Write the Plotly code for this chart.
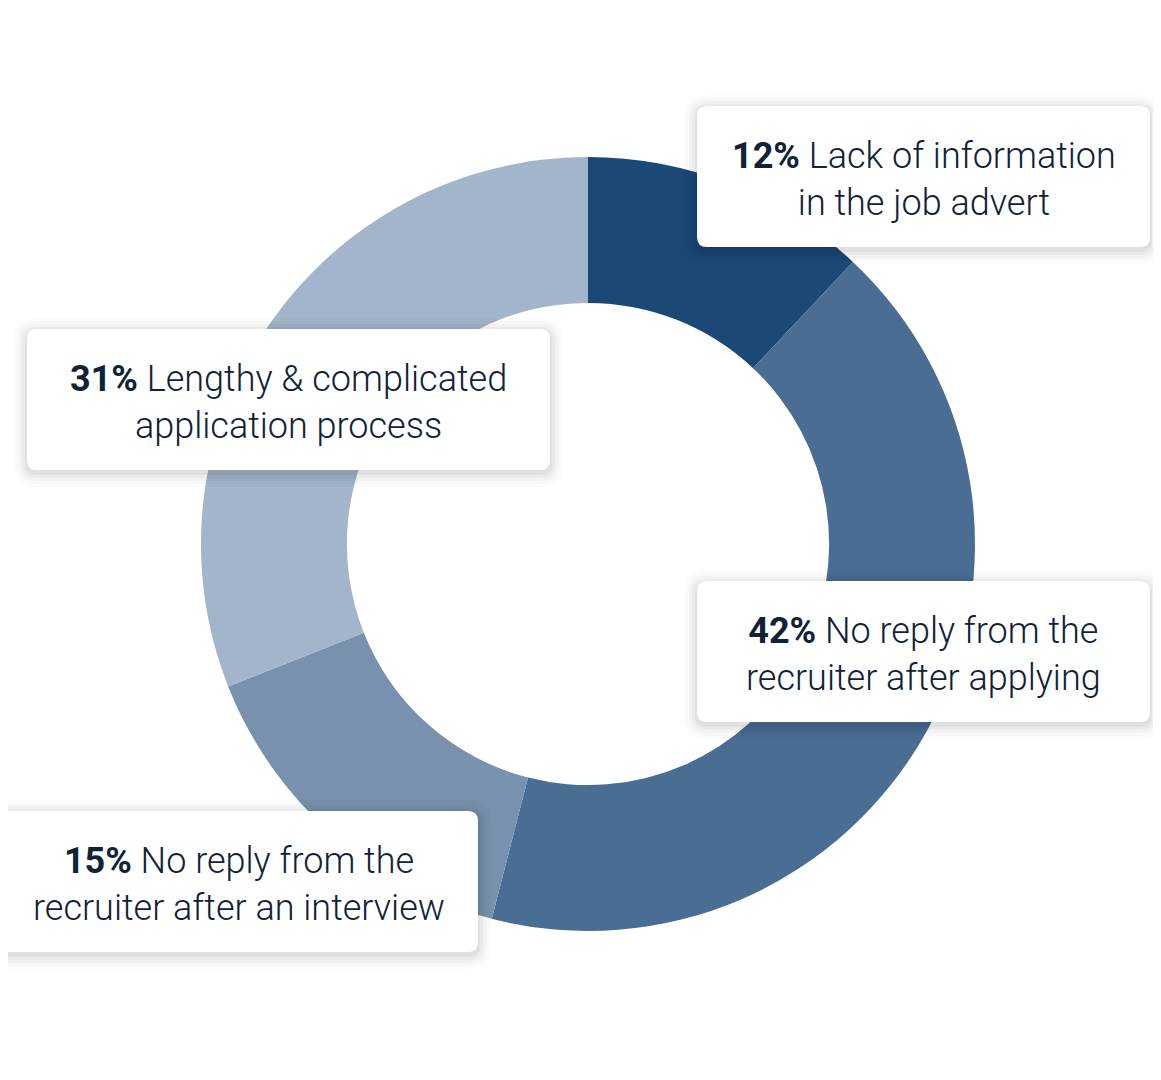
import plotly.graph_objects as go

labels = ["Lack of information in the job advert",
          "No reply from the recruiter after applying",
          "No reply from the recruiter after an interview",
          "Lengthy & complicated application process"]
values = [12, 42, 15, 31]
colors = ["#1c4876", "#4a6d93", "#7791ae", "#a3b5ca"]
box_text = [
    "<b>12%</b> Lack of information<br>in the job advert",
    "<b>42%</b> No reply from the<br>recruiter after applying",
    "<b>15%</b> No reply from the<br>recruiter after an interview",
    "<b>31%</b> Lengthy & complicated<br>application process",
]

PW, PH = 1161, 1080          # page size
OFF = 8                      # default body margin of the html page
W, H = PW - OFF, PH - OFF    # figure size
# box positions in page pixel coords (x0, y0, x1, y1)
boxes = [(697, 106, 1150, 247), (697, 581, 1150, 722), (-10, 811, 478, 952), (27, 329, 550, 470)]

# pie centre / radius in page pixels
cx, cy, R = 588, 544, 387
fx, fy = cx - OFF, cy - OFF

fig = go.Figure()
fig.add_trace(go.Pie(
    labels=labels, values=values, sort=False, direction="clockwise", rotation=0,
    hole=0.623, marker=dict(colors=colors, line=dict(width=0)),
    textinfo="none", hoverinfo="label+percent", showlegend=False,
    domain=dict(x=[(fx - R) / W, (fx + R) / W], y=[(H - fy - R) / H, (H - fy + R) / H]),
))

def rr_path(x0, y0, x1, y1, r):
    return (f"M{x0+r},{y0} L{x1-r},{y0} Q{x1},{y0} {x1},{y0+r} L{x1},{y1-r} "
            f"Q{x1},{y1} {x1-r},{y1} L{x0+r},{y1} Q{x0},{y1} {x0},{y1-r} "
            f"L{x0},{y0+r} Q{x0},{y0} {x0+r},{y0} Z")

shapes = []
annotations = []
for (x0, y0, x1, y1), txt in zip(boxes, box_text):
    for g, op in [(14, 0.012), (11, 0.016), (8, 0.022), (5, 0.03), (2, 0.04)]:
        shapes.append(dict(type="path", xref="x", yref="y", layer="above",
                           path=rr_path(x0 - g, y0 - g + 3, x1 + g, y1 + g + 3, 10 + g),
                           fillcolor=f"rgba(0,0,0,{op})", line=dict(width=0)))
    shapes.append(dict(type="path", xref="x", yref="y", layer="above",
                       path=rr_path(x0, y0, x1, y1, 10),
                       fillcolor="white", line=dict(width=0)))
    annotations.append(dict(x=(max(x0, 0) + x1) / 2, y=(y0 + y1) / 2 + 3, xref="x", yref="y",
                            text=txt, showarrow=False, align="center",
                            xanchor="center", yanchor="middle",
                            font=dict(family="Roboto", size=36, color="#0f2238", weight=300)))

fig.update_layout(
    width=W, height=H, margin=dict(l=0, r=0, t=0, b=0),
    paper_bgcolor="white", plot_bgcolor="rgba(0,0,0,0)",
    xaxis=dict(range=[OFF, PW], visible=False, fixedrange=True),
    yaxis=dict(range=[PH, OFF], visible=False, fixedrange=True),
    shapes=shapes, annotations=annotations, showlegend=False,
)
fig.write_html("out.html")
